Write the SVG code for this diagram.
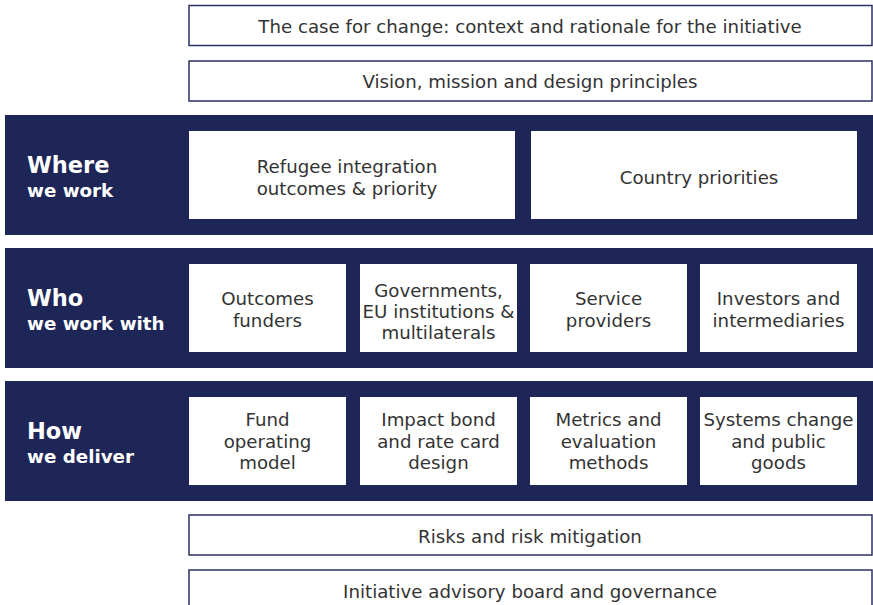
<svg xmlns="http://www.w3.org/2000/svg" width="873" height="605" viewBox="0 0 873 605">
<style>
.ob{fill:#fff;stroke:#2b3163;stroke-width:1.5}
.band{fill:#1e2657}
.wb{fill:#fff}
.t{font-family:"DejaVu Sans","Liberation Sans",sans-serif;font-size:18.2px;fill:#333;text-anchor:middle;dominant-baseline:central}
.h1{font-family:"DejaVu Sans","Liberation Sans",sans-serif;font-weight:bold;font-size:22.5px;fill:#fff;dominant-baseline:central}
.h2{font-family:"DejaVu Sans","Liberation Sans",sans-serif;font-weight:bold;font-size:18.3px;fill:#fff;dominant-baseline:central}
</style>
<rect width="873" height="605" fill="#fff"/>
<g id="case"><rect class="ob" x="189" y="5.5" width="683" height="40"/><text class="t" x="530" y="26">The case for change: context and rationale for the initiative</text></g>
<g id="vision"><rect class="ob" x="189" y="61" width="683" height="40"/><text class="t" x="530" y="81">Vision, mission and design principles</text></g>

<g id="where"><rect class="band" x="5" y="115" width="868" height="120"/>
<text class="h1" x="27" y="165">Where</text><text class="h2" x="27" y="190">we work</text></g>
<g id="refugee"><rect class="wb" x="189" y="131" width="326" height="88"/><text class="t" x="347"><tspan x="347" y="166">Refugee integration</tspan><tspan x="347" y="188">outcomes &amp; priority</tspan></text></g>
<g id="country"><rect class="wb" x="531" y="131" width="326" height="88"/><text class="t" x="699" y="177">Country priorities</text></g>

<g id="who"><rect class="band" x="5" y="248" width="868" height="120"/>
<text class="h1" x="27" y="298">Who</text><text class="h2" x="27" y="323">we work with</text></g>
<g id="outcomes"><rect class="wb" x="189" y="264" width="157" height="88"/><text class="t"><tspan x="267.5" y="298">Outcomes</tspan><tspan x="267.5" y="320">funders</tspan></text></g>
<g id="govts"><rect class="wb" x="360" y="264" width="157" height="88"/><text class="t"><tspan x="438.5" y="290">Governments,</tspan><tspan x="438.5" y="311">EU institutions &amp;</tspan><tspan x="438.5" y="332">multilaterals</tspan></text></g>
<g id="service"><rect class="wb" x="530" y="264" width="157" height="88"/><text class="t"><tspan x="608.5" y="298">Service</tspan><tspan x="608.5" y="320">providers</tspan></text></g>
<g id="investors"><rect class="wb" x="700" y="264" width="157" height="88"/><text class="t"><tspan x="778.5" y="298">Investors and</tspan><tspan x="778.5" y="320">intermediaries</tspan></text></g>

<g id="how"><rect class="band" x="5" y="381" width="868" height="120"/>
<text class="h1" x="27" y="431">How</text><text class="h2" x="27" y="456">we deliver</text></g>
<g id="fund"><rect class="wb" x="189" y="397" width="157" height="88"/><text class="t"><tspan x="267.5" y="419">Fund</tspan><tspan x="267.5" y="441">operating</tspan><tspan x="267.5" y="462">model</tspan></text></g>
<g id="impact"><rect class="wb" x="360" y="397" width="157" height="88"/><text class="t"><tspan x="438.5" y="419">Impact bond</tspan><tspan x="438.5" y="441">and rate card</tspan><tspan x="438.5" y="462">design</tspan></text></g>
<g id="metrics"><rect class="wb" x="530" y="397" width="157" height="88"/><text class="t"><tspan x="608.5" y="419">Metrics and</tspan><tspan x="608.5" y="441">evaluation</tspan><tspan x="608.5" y="462">methods</tspan></text></g>
<g id="systems"><rect class="wb" x="700" y="397" width="157" height="88"/><text class="t"><tspan x="778.5" y="419">Systems change</tspan><tspan x="778.5" y="441">and public</tspan><tspan x="778.5" y="462">goods</tspan></text></g>

<g id="risks"><rect class="ob" x="189" y="515" width="683" height="40"/><text class="t" x="530" y="536">Risks and risk mitigation</text></g>
<g id="board"><rect class="ob" x="189" y="570" width="683" height="40"/><text class="t" x="530" y="591">Initiative advisory board and governance</text></g>
<g id="connectors"/>
</svg>
